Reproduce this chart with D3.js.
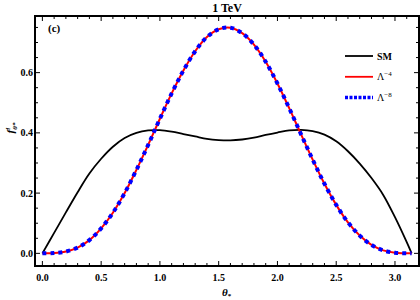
<!DOCTYPE html>
<html>
<head>
<meta charset="utf-8">
<script src="https://cdn.jsdelivr.net/npm/d3@7"></script>
<style>
  body { margin: 0; background: #fff; }
  text { font-family: "Liberation Serif", "Times New Roman", serif; font-weight: bold; }
</style>
</head>
<body>
<script>
// theta grid (every 0.1, last point = pi)
const theta = [0, 0.1, 0.2, 0.3, 0.4, 0.5, 0.6, 0.7, 0.8, 0.9, 1.0, 1.1, 1.2, 1.3, 1.4, 1.5,
  1.6, 1.7, 1.8, 1.9, 2.0, 2.1, 2.2, 2.3, 2.4, 2.5, 2.6, 2.7, 2.8, 2.9, 3.0, 3.1, 3.1416];

const smVals = [0, 0.068, 0.136, 0.203, 0.265, 0.314, 0.354, 0.383, 0.400, 0.408, 0.409, 0.404,
  0.396, 0.388, 0.380, 0.376, 0.375, 0.378, 0.384, 0.393, 0.401, 0.408, 0.410, 0.406, 0.394,
  0.372, 0.339, 0.298, 0.250, 0.194, 0.120, 0.037, 0];

const lam4Vals = [0, 0.001, 0.006, 0.019, 0.044, 0.083, 0.135, 0.200, 0.277, 0.360, 0.447, 0.531,
  0.607, 0.671, 0.718, 0.744, 0.749, 0.731, 0.693, 0.636, 0.564, 0.482, 0.396, 0.311, 0.231,
  0.161, 0.103, 0.059, 0.028, 0.010, 0.002, 0.000, 0];

const lam8Vals = lam4Vals.slice(); // lies on top of the red curve

const xTicks = [0, 0.5, 1.0, 1.5, 2.0, 2.5, 3.0];
const yTicks = [0, 0.2, 0.4, 0.6];

const width = 420, height = 300;
const margin = {left: 35, right: 1, top: 16, bottom: 34};

const svg = d3.select("body").append("svg").attr("width", width).attr("height", height);

const x = d3.scaleLinear().domain([-0.0628, 3.2044]).range([margin.left, width - margin.right]);
const y = d3.scaleLinear().domain([-0.042, 0.788]).range([height - margin.bottom, margin.top]);

const line = vals => d3.line()
  .x((d, i) => x(theta[i]))
  .y(d => y(d))
  .curve(d3.curveCatmullRom)(vals);

// ticks on all four sides, pointing inward
const xMinor = d3.range(0, 3.15, 0.1).filter(v => Math.abs(v * 2 - Math.round(v * 2)) > 1e-6);
const yMinor = d3.range(0.05, 0.76, 0.05).filter(v => Math.abs(v * 5 - Math.round(v * 5)) > 1e-6);

const axes = svg.append("g").attr("stroke", "#000").attr("stroke-width", 1);
const x0 = x.range()[0], x1 = x.range()[1], y0 = y.range()[0], y1 = y.range()[1];

xTicks.forEach(v => {
  axes.append("line").attr("x1", x(v)).attr("x2", x(v)).attr("y1", y0).attr("y2", y0 - 5);
  axes.append("line").attr("x1", x(v)).attr("x2", x(v)).attr("y1", y1).attr("y2", y1 + 5);
});
xMinor.forEach(v => {
  axes.append("line").attr("x1", x(v)).attr("x2", x(v)).attr("y1", y0).attr("y2", y0 - 3);
  axes.append("line").attr("x1", x(v)).attr("x2", x(v)).attr("y1", y1).attr("y2", y1 + 3);
});
yTicks.forEach(v => {
  axes.append("line").attr("y1", y(v)).attr("y2", y(v)).attr("x1", x0).attr("x2", x0 + 5);
  axes.append("line").attr("y1", y(v)).attr("y2", y(v)).attr("x1", x1).attr("x2", x1 - 5);
});
yMinor.forEach(v => {
  axes.append("line").attr("y1", y(v)).attr("y2", y(v)).attr("x1", x0).attr("x2", x0 + 3);
  axes.append("line").attr("y1", y(v)).attr("y2", y(v)).attr("x1", x1).attr("x2", x1 - 3);
});

// curves
svg.append("path").attr("d", line(smVals)).attr("fill", "none")
  .attr("stroke", "#000").attr("stroke-width", 1.8);
svg.append("path").attr("d", line(lam4Vals)).attr("fill", "none")
  .attr("stroke", "#ff0000").attr("stroke-width", 2);
svg.append("path").attr("d", line(lam8Vals)).attr("fill", "none")
  .attr("stroke", "#0000ff").attr("stroke-width", 4).attr("stroke-dasharray", "4,4");

// frame
svg.append("rect").attr("x", x0).attr("y", y1).attr("width", x1 - x0).attr("height", y0 - y1)
  .attr("fill", "none").attr("stroke", "#000").attr("stroke-width", 2);

// tick labels
svg.append("g").selectAll("text").data(xTicks).join("text")
  .attr("x", d => x(d)).attr("y", y0 + 15).attr("text-anchor", "middle")
  .attr("font-size", 10).text(d => d.toFixed(1));
svg.append("g").selectAll("text").data(yTicks).join("text")
  .attr("x", x0 - 2).attr("y", d => y(d) + 3.5).attr("text-anchor", "end")
  .attr("font-size", 10).text(d => d.toFixed(1));

// title and panel tag
svg.append("text").attr("x", (x0 + x1) / 2).attr("y", 12).attr("text-anchor", "middle")
  .attr("font-size", 12).text("1 TeV");
svg.append("text").attr("x", 48).attr("y", 32).attr("font-size", 11).text("(c)");

// axis titles
const xl = svg.append("text").attr("x", 222).attr("y", 296).attr("font-size", 11);
xl.append("tspan").attr("font-style", "italic").text("θ");
xl.append("tspan").attr("font-size", 7).attr("dy", 2).text("*");

const yl = svg.append("text").attr("transform", "translate(14,128) rotate(-90)")
  .attr("text-anchor", "middle").attr("font-size", 11);
yl.append("tspan").attr("font-style", "italic").text("f");
yl.append("tspan").attr("font-size", 7).attr("dy", -4).attr("font-style", "italic").text("l");
yl.append("tspan").attr("font-size", 7).attr("dx", -2).attr("dy", 7).attr("font-style", "italic").text("θ*");

// legend
const legend = [
  {label: "SM", color: "#000", width: 1.8, dash: null, sup: null},
  {label: "Λ", color: "#ff0000", width: 1.8, dash: null, sup: "−4"},
  {label: "Λ", color: "#0000ff", width: 3.5, dash: "3,1.5", sup: "−8"}
];
const lg = svg.append("g");
legend.forEach((d, i) => {
  const ly = 56 + i * 20.8;
  lg.append("line").attr("x1", 345).attr("x2", 373).attr("y1", ly).attr("y2", ly)
    .attr("stroke", d.color).attr("stroke-width", d.width).attr("stroke-dasharray", d.dash);
  const t = lg.append("text").attr("x", 377).attr("y", ly + 3.5).attr("font-size", 10);
  t.append("tspan").attr("font-weight", d.sup ? "normal" : "bold").text(d.label);
  if (d.sup) t.append("tspan").attr("font-size", 7).attr("dy", -4).attr("font-weight", "normal").text(d.sup);
});
</script>
</body>
</html>
